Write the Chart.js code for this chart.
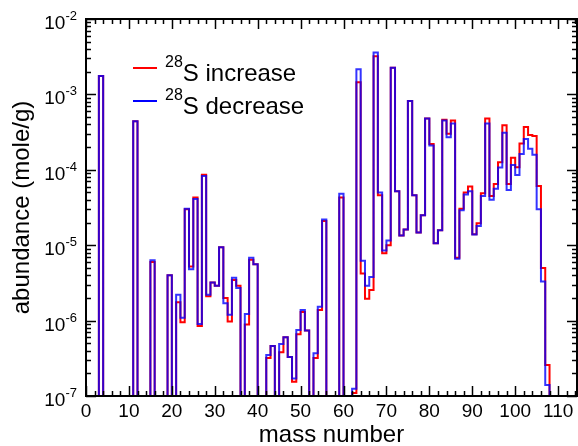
<!DOCTYPE html>
<html><head><meta charset="utf-8">
<script src="https://cdn.jsdelivr.net/npm/chart.js@4.4.1/dist/chart.umd.min.js"></script>
<style>html,body{margin:0;padding:0;background:#fff}#wrap{width:578px;height:446px}</style>
</head><body><div id="wrap"><canvas id="c" width="578" height="446"></canvas></div>
<script>
// mass numbers (each bar for mass A spans [A-1, A]); 1e-9 = below the plotted range
const massNumbers = [1,2,3,4,5,6,7,8,9,10,11,12,13,14,15,16,17,18,19,20,21,22,23,24,25,26,27,28,29,30,31,32,33,34,35,36,37,38,39,40,41,42,43,44,45,46,47,48,49,50,51,52,53,54,55,56,57,58,59,60,61,62,63,64,65,66,67,68,69,70,71,72,73,74,75,76,77,78,79,80,81,82,83,84,85,86,87,88,89,90,91,92,93,94,95,96,97,98,99,100,101,102,103,104,105,106,107,108,109];
const increase28S = [
 1e-9,1e-9,1e-9,1.75e-3,1e-9,1e-9,1e-9,1e-9,1e-9,1e-9,
 1e-9,4.4e-4,1e-9,1e-9,1e-9,6.0e-6,1e-9,1e-9,1e-9,4.0e-6,
 1e-9,1.75e-6,9.5e-7,3.0e-5,5.2e-6,4.3e-5,8.5e-7,8.6e-5,2.1e-6,3.2e-6,
 2.9e-6,9.4e-6,2.0e-6,9.7e-7,3.45e-6,2.9e-6,1e-9,8.9e-7,6.4e-6,5.6e-6,
 1e-9,1e-9,3.2e-7,4.6e-7,1e-9,3.8e-7,6.0e-7,3.3e-7,1.55e-7,6.6e-7,
 1.3e-6,7.4e-7,1e-9,3.2e-7,1.38e-6,2.1e-5,1e-9,1e-9,1e-9,4.3e-5,
 1e-9,1e-9,1.1e-7,1.45e-3,4.2e-6,1.95e-6,2.55e-6,3.2e-3,4.6e-5,7.8e-6,
 1.0e-5,2.26e-3,5.2e-5,1.34e-5,1.62e-5,8.2e-4,4.6e-5,1.47e-5,2.5e-5,4.8e-4,
 2.2e-4,1.06e-5,1.58e-5,4.6e-4,3.0e-4,4.5e-4,6.8e-6,3.05e-5,5.0e-5,6.0e-5,
 1.4e-5,1.95e-5,4.9e-5,4.8e-4,4.5e-5,6.5e-5,1.26e-4,3.9e-4,6.5e-5,1.45e-4,
 1.08e-4,2.24e-4,3.7e-4,2.9e-4,2.8e-4,6.1e-5,5.0e-6,2.57e-7,1e-9];
const decrease28S = [
 1e-9,1e-9,1e-9,1.75e-3,1e-9,1e-9,1e-9,1e-9,1e-9,1e-9,
 1e-9,4.4e-4,1e-9,1e-9,1e-9,6.3e-6,1e-9,1e-9,1e-9,4.0e-6,
 1e-9,2.2e-6,1.09e-6,3.05e-5,4.8e-6,4.1e-5,9.0e-7,8.3e-5,2.2e-6,3.2e-6,
 2.9e-6,9.4e-6,1.7e-6,1.2e-6,3.7e-6,2.7e-6,1e-9,1.22e-6,6.8e-6,5.6e-6,
 1e-9,1e-9,3.5e-7,4.6e-7,1e-9,4.9e-7,6.0e-7,3.3e-7,1.7e-7,7.5e-7,
 1.38e-6,7.4e-7,1e-9,3.7e-7,1.53e-6,2.2e-5,1e-9,1e-9,1e-9,4.8e-5,
 1e-9,1e-9,1.25e-7,2.15e-3,6.2e-6,2.9e-6,3.8e-6,3.6e-3,5.0e-5,8.5e-6,
 1.15e-5,2.26e-3,5.2e-5,1.34e-5,1.62e-5,8.2e-4,4.6e-5,1.47e-5,2.5e-5,4.8e-4,
 2.1e-4,1.06e-5,1.58e-5,4.5e-4,2.7e-4,4.1e-4,6.6e-6,2.9e-5,4.7e-5,5.2e-5,
 1.39e-5,1.8e-5,4.5e-5,4.1e-4,4.0e-5,5.6e-5,1.07e-4,3.1e-4,5.4e-5,1.16e-4,
 8.5e-5,1.62e-4,2.56e-4,1.9e-4,1.58e-4,3.0e-5,3.3e-6,1.4e-7,1e-9];
const xTickLabels = [0,10,20,30,40,50,60,70,80,90,100,110];
const yTickLabels = [1e-7,1e-6,1e-5,1e-4,1e-3,1e-2];
const seriesNames = ['increase','decrease'];

const F = "'Liberation Sans', Arial, Helvetica, sans-serif";

const framePlugin = {
  id: 'frame',
  afterDraw(chart) {
    const {ctx, chartArea: a, scales: {x, y}} = chart;
    ctx.save();
    ctx.strokeStyle = '#000';
    const seg = (x1, y1, x2, y2) => { ctx.beginPath(); ctx.moveTo(x1, y1); ctx.lineTo(x2, y2); ctx.stroke(); };
    ctx.lineWidth = 1.5;
    // x ticks (inward, top and bottom)
    for (let v = 0; v <= x.max + 1e-9; v += 2) {
      const px = Math.round(x.getPixelForValue(v)) + 0.5;
      const len = (v % 10 === 0) ? 10 : 5;
      seg(px, a.bottom, px, a.bottom - len);
      seg(px, a.top, px, a.top + len);
    }
    // y ticks (inward, left and right)
    for (let e = -7; e <= -2; e++) {
      for (let m = 1; m <= 9; m++) {
        const v = m * Math.pow(10, e);
        if (v > y.max * 1.0001) break;
        const py = Math.round(y.getPixelForValue(v)) + 0.5;
        const len = (m === 1) ? 10 : 5;
        seg(a.left, py, a.left + len, py);
        seg(a.right, py, a.right - len, py);
      }
    }
    ctx.lineWidth = 2;
    ctx.strokeRect(a.left, a.top, a.right - a.left, a.bottom - a.top);
    // y tick labels 10^n
    ctx.fillStyle = '#000';
    ctx.textBaseline = 'alphabetic';
    ctx.textAlign = 'left';
    const R = 77;
    yTickLabels.forEach(v => {
      const ex = String(Math.round(Math.log10(v)));
      const py = y.getPixelForValue(v);
      ctx.font = '13px ' + F;
      const sw = ctx.measureText(ex).width;
      ctx.font = '19px ' + F;
      const bw = ctx.measureText('10').width;
      ctx.fillText('10', R - sw - bw, py + 10);
      ctx.font = '13px ' + F;
      ctx.fillText(ex, R - sw, py + 1);
    });
    // legend
    const rows = [{c: '#ff0000', ly: 68, base: 81, txt: 'S ' + seriesNames[0]},
                  {c: '#0000ff', ly: 101, base: 114, txt: 'S ' + seriesNames[1]}];
    rows.forEach(r => {
      ctx.strokeStyle = r.c; ctx.lineWidth = 2;
      seg(133, r.ly, 157, r.ly);
      ctx.fillStyle = '#000';
      ctx.font = '16px ' + F;
      ctx.fillText('28', 165, r.base - 14);
      const w = ctx.measureText('28').width;
      ctx.font = '24px ' + F;
      ctx.fillText(r.txt, 165 + w, r.base);
    });
    ctx.restore();
  }
};

const pts = arr => massNumbers.map((m, i) => ({x: m, y: arr[i]}));

new Chart(document.getElementById('c'), {
  type: 'line',
  data: {
    datasets: [
      {label: '28S decrease', data: pts(decrease28S), borderColor: 'rgba(0,0,255,0.8)', borderWidth: 2, stepped: 'after', pointRadius: 0, fill: false, order: 0},
      {label: '28S increase', data: pts(increase28S), borderColor: '#ff0000', borderWidth: 2, stepped: 'after', pointRadius: 0, fill: false, order: 1}
    ]
  },
  options: {
    responsive: false, animation: false, devicePixelRatio: 1,
    layout: {padding: {top: 19, right: 1, left: 0, bottom: 0}},
    plugins: {legend: {display: false}, tooltip: {enabled: false}},
    scales: {
      x: {
        type: 'linear', min: 0, max: 114.4,
        afterBuildTicks(s) { s.ticks = xTickLabels.map(v => ({value: v})); },
        afterFit(s) { s.height = 50; },
        grid: {display: false, drawTicks: false}, border: {display: false},
        ticks: {autoSkip: false, maxRotation: 0, padding: 4, color: '#000', font: {size: 19, family: F}},
        title: {display: true, text: 'mass number', color: '#000', font: {size: 24, family: F, lineHeight: 0.9}, padding: 0}
      },
      y: {
        type: 'logarithmic', min: 1e-7, max: 1e-2,
        afterFit(s) { s.width = 86; },
        grid: {display: false}, border: {display: false},
        ticks: {display: false},
        title: {display: true, text: 'abundance (mole/g)', color: '#000', font: {size: 24, family: F}, padding: {top: 8, bottom: 0}}
      }
    }
  },
  plugins: [framePlugin]
});
</script>
</body></html>
